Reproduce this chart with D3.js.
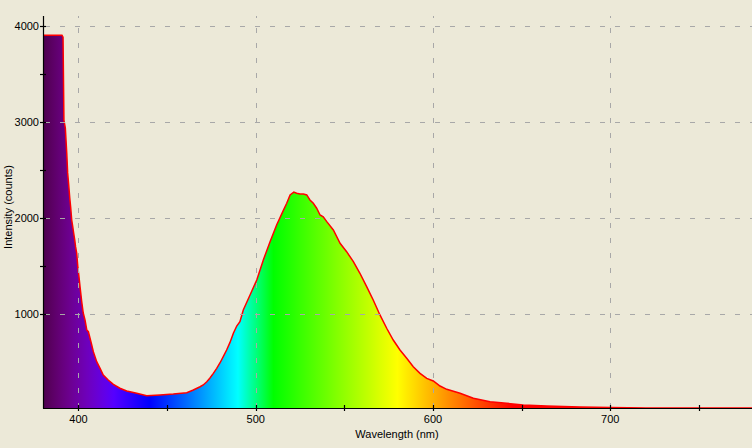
<!DOCTYPE html>
<html>
<head>
<meta charset="utf-8">
<script src="https://cdn.jsdelivr.net/npm/d3@7"></script>
<style>
  html, body { margin: 0; padding: 0; background: #ece9d8; }
  svg { display: block; }
  text { font-family: "Liberation Sans", Arial, sans-serif; font-size: 11px; fill: #000; }
</style>
</head>
<body>
<svg id="chart" width="752" height="448"></svg>
<script>
// ---- data ----
const wavelengths = [380, 390.7, 391.3, 391.8, 392.6, 393.4, 393.9, 394.5, 395.1, 395.6, 396.2, 396.8, 397.3, 397.9, 398.4, 399.0, 399.7, 400.3, 400.9, 401.8, 402.7, 403.7, 404.7, 405.6, 406.5, 407.5, 408.4, 410.3, 412.2, 414.0, 416.8, 419.7, 423.4, 427.2, 432.9, 438.5, 446.0, 453.5, 461.1, 464.8, 468.6, 470.4, 472.4, 474.2, 476.1, 478.0, 479.9, 481.7, 483.6, 485.5, 487.4, 489.3, 491.1, 493.0, 496.8, 500.6, 504.3, 508.1, 511.8, 515.6, 517.5, 519.4, 521.5, 523.1, 525.0, 526.9, 528.8, 530.6, 532.5, 534.4, 536.3, 538.1, 540.1, 543.8, 547.6, 551.3, 555.1, 558.8, 562.6, 566.3, 570.1, 573.9, 577.6, 581.4, 585.2, 588.9, 592.7, 596.5, 600.2, 604.0, 607.8, 615.3, 622.8, 632.2, 641.6, 651.0, 664.2, 683.0, 700, 720, 780];
const intensity = [3900, 3900, 3880, 3019, 2936, 2677, 2470, 2345, 2210, 2116, 1981, 1909, 1846, 1774, 1701, 1638, 1483, 1390, 1286, 1140, 1015, 943, 839, 821, 756, 683, 614, 510, 441, 372, 320, 275, 234, 206, 182, 157, 164, 174, 188, 216, 250, 268, 302, 340, 389, 441, 499, 562, 631, 710, 805, 880, 925, 1047, 1202, 1358, 1566, 1756, 1929, 2081, 2155, 2241, 2270, 2258, 2251, 2251, 2241, 2189, 2155, 2103, 2033, 2015, 1964, 1877, 1739, 1652, 1548, 1428, 1289, 1150, 995, 857, 735, 631, 545, 458, 389, 337, 310, 257, 223, 182, 130, 94, 78, 60, 50, 39, 33, 30, 29];
const xMajorTicks = [400, 500, 600, 700];
const xMinorTicks = [450, 550, 650, 750];
const yMajorTicks = [1000, 2000, 3000, 4000];
const yMinorTicks = [1500, 2500, 3500];
const xTitle = "Wavelength (nm)";
const yTitle = "Intensity (counts)";

const data = wavelengths.map((w, i) => ({ w, v: intensity[i] }));

// ---- layout ----
const svg = d3.select("#chart");
const pL = 43, pR = 752, pT = 16, pB = 408;
const x = d3.scaleLinear().domain([380, 780]).range([pL, pR]);
const y = d3.scaleLinear().domain([29, 4099]).range([pB, pT]);

// spectral colour (wavelength -> rgb)
function specColor(w) {
  let r = 0, g = 0, b = 0;
  if (w < 440) { r = -(w - 440) / 60; b = 1; }
  else if (w < 490) { g = (w - 440) / 50; b = 1; }
  else if (w < 510) { g = 1; b = -(w - 510) / 20; }
  else if (w < 580) { r = (w - 510) / 70; g = 1; }
  else if (w < 645) { r = 1; g = -(w - 645) / 65; }
  else { r = 1; }
  let f = 1;
  if (w < 420) f = 0.3 + 0.7 * (w - 380) / 40;
  else if (w > 700) f = 0.3 + 0.7 * (780 - w) / 80;
  const c = v => Math.round(255 * v * f);
  return `rgb(${c(r)},${c(g)},${c(b)})`;
}

const defs = svg.append("defs");
const grad = defs.append("linearGradient")
  .attr("id", "spec").attr("gradientUnits", "userSpaceOnUse")
  .attr("x1", x(380)).attr("x2", x(780)).attr("y1", 0).attr("y2", 0);
d3.range(380, 781, 5).forEach(w => {
  grad.append("stop").attr("offset", (w - 380) / 400).attr("stop-color", specColor(w));
});

// area fill
svg.append("path").datum(data)
  .attr("fill", "url(#spec)")
  .attr("d", d3.area().x(d => x(d.w)).y0(y(29)).y1(d => y(d.v)));

// red outline
svg.append("path").datum(data)
  .attr("fill", "none").attr("stroke", "#ff0000").attr("stroke-width", 1.5)
  .attr("d", d3.line().x(d => x(d.w)).y(d => y(d.v)));

// grid (dashed, above the fill)
const grid = svg.append("g").attr("stroke", "#a8a8a8").attr("stroke-dasharray", "5,10").attr("stroke-width", 1);
grid.selectAll(".gx").data(xMajorTicks).enter().append("line")
  .attr("x1", d => Math.round(x(d)) + 0.5).attr("x2", d => Math.round(x(d)) + 0.5)
  .attr("y1", pB).attr("y2", pT);
grid.selectAll(".gy").data(yMajorTicks).enter().append("line")
  .attr("x1", pL + 2).attr("x2", pR)
  .attr("y1", d => Math.round(y(d)) + 0.5).attr("y2", d => Math.round(y(d)) + 0.5);

// axes lines
const ax = svg.append("g").attr("stroke", "#000").attr("stroke-width", 1.2);
ax.append("line").attr("x1", pL + 0.5).attr("x2", pL + 0.5).attr("y1", pT).attr("y2", pB + 0.5);
ax.append("line").attr("x1", pL).attr("x2", pR).attr("y1", pB + 0.5).attr("y2", pB + 0.5);

// ticks
xMajorTicks.concat(xMinorTicks).forEach(t => {
  ax.append("line").attr("x1", Math.round(x(t)) + 0.5).attr("x2", Math.round(x(t)) + 0.5)
    .attr("y1", pB - 3).attr("y2", pB + 3);
});
yMajorTicks.concat(yMinorTicks).forEach(t => {
  ax.append("line").attr("x1", pL - 3).attr("x2", pL + 3)
    .attr("y1", Math.round(y(t)) + 0.5).attr("y2", Math.round(y(t)) + 0.5);
});

// tick labels
svg.selectAll(".xl").data(xMajorTicks).enter().append("text")
  .attr("x", d => x(d)).attr("y", 423).attr("text-anchor", "middle").text(d => d);
svg.selectAll(".yl").data(yMajorTicks).enter().append("text")
  .attr("x", 39).attr("y", d => y(d) + 4).attr("text-anchor", "end").text(d => d);

// titles
svg.append("text").attr("x", 397).attr("y", 438).attr("text-anchor", "middle").text(xTitle);
svg.append("text").attr("transform", "translate(12,207) rotate(-90)").attr("text-anchor", "middle").text(yTitle);
</script>
</body>
</html>
